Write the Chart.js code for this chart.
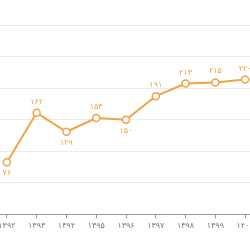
<!DOCTYPE html>
<html>
<head>
<meta charset="utf-8">
<script src="https://cdn.jsdelivr.net/npm/chart.js@4.4.0/dist/chart.umd.min.js"></script>
<style>
  html, body { margin: 0; padding: 0; background: #fff; }
  #wrap { position: relative; width: 250px; height: 250px; overflow: hidden; }
  #chart { position: absolute; left: -30px; top: 0; }
</style>
</head>
<body>
<div id="wrap">
  <canvas id="chart" width="310" height="250"></canvas>
</div>
<script>
const years = ['۱۳۹۲', '۱۳۹۳', '۱۳۹۴', '۱۳۹۵', '۱۳۹۶', '۱۳۹۷', '۱۳۹۸', '۱۳۹۹', '۱۴۰۰'];
const counts = [76, 162, 129, 153, 150, 191, 213, 215, 220];

const orange = '#f0a444';
const faDigits = '۰۱۲۳۴۵۶۷۸۹';
const toFa = n => String(n).replace(/\d/g, d => faDigits[d]);

// value labels above each point, below when the point is a local dip
const valueLabels = {
    id: 'valueLabels',
    afterDatasetsDraw(chart) {
        const ctx = chart.ctx;
        const meta = chart.getDatasetMeta(0);
        const data = chart.data.datasets[0].data;
        ctx.save();
        ctx.font = '8px "DejaVu Sans"';
        ctx.fillStyle = orange;
        ctx.textAlign = 'center';
        ctx.textBaseline = 'middle';
        meta.data.forEach((pt, i) => {
            const prev = i > 0 ? data[i - 1] : Infinity;
            const next = i < data.length - 1 ? data[i + 1] : Infinity;
            const below = data[i] < prev && data[i] < next;
            ctx.fillText(toFa(data[i]), pt.x, below ? pt.y + 11 : pt.y - 11);
        });
        ctx.restore();
    }
};

new Chart(document.getElementById('chart'), {
    type: 'line',
    data: {
        labels: years,
        datasets: [{
            data: counts,
            borderColor: orange,
            borderWidth: 2,
            backgroundColor: '#fff',
            pointBackgroundColor: '#fff',
            pointBorderColor: orange,
            pointBorderWidth: 1.5,
            pointRadius: 3.5,
            tension: 0
        }]
    },
    options: {
        responsive: false,
        animation: false,
        layout: { padding: { left: 22, right: 20, top: 25, bottom: 16 } },
        plugins: { legend: { display: false }, tooltip: { enabled: false } },
        scales: {
            x: {
                offset: true,
                grid: { drawOnChartArea: false, drawTicks: true, tickLength: 4, color: '#999' },
                border: { color: '#999' },
                ticks: { color: '#777', font: { family: 'DejaVu Sans', size: 8 }, padding: 3, maxRotation: 0, autoSkip: false }
            },
            y: {
                min: -15,
                max: 315,
                ticks: { stepSize: 55, display: false },
                grid: { color: '#ebebeb', drawTicks: false },
                border: { display: false }
            }
        }
    },
    plugins: [valueLabels]
});
</script>
</body>
</html>
